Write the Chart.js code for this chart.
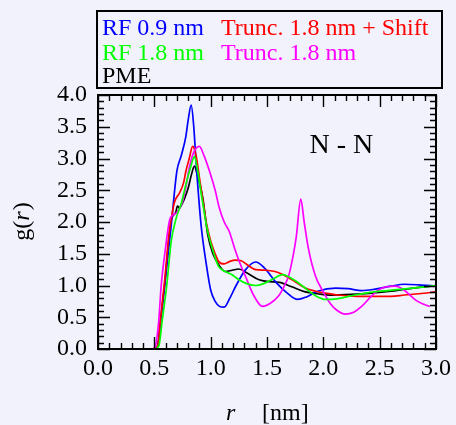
<!DOCTYPE html>
<html>
<head>
<title>g(r) N - N</title>
<style>
  body { margin: 0; background: #f2f2fc; }
  canvas { display: block; }
</style>
</head>
<body>
<canvas id="chart" width="456" height="425"></canvas>
<script src="https://cdn.jsdelivr.net/npm/chart.js@4"></script>
<script>

// RF 0.9 nm
var rRF09 = [0, 0.49, 0.53, 0.556, 0.59, 0.65, 0.70, 0.74, 0.78, 0.80, 0.827, 0.85, 0.87, 0.915, 0.96, 1.0, 1.04, 1.08, 1.12, 1.17, 1.22, 1.31, 1.40, 1.48, 1.58, 1.68, 1.77, 1.85, 1.95, 2.11, 2.22, 2.34, 2.45, 2.6, 2.72, 2.85, 3.0];
var gRF09 = [0, 0, 0.05, 0.45, 0.97, 1.95, 2.8, 3.05, 3.35, 3.6, 3.84, 3.5, 2.95, 1.95, 1.35, 0.93, 0.75, 0.67, 0.66, 0.8, 0.98, 1.25, 1.37, 1.27, 1.05, 0.88, 0.78, 0.82, 0.91, 0.96, 0.95, 0.92, 0.94, 0.99, 1.02, 1.01, 0.99];

// Trunc. 1.8 nm + Shift
var rShift = [0, 0.49, 0.53, 0.556, 0.59, 0.63, 0.66, 0.68, 0.724, 0.76, 0.78, 0.81, 0.84, 0.87, 0.90, 0.93, 0.96, 1.0, 1.04, 1.07, 1.12, 1.17, 1.22, 1.27, 1.33, 1.40, 1.49, 1.57, 1.63, 1.75, 1.84, 1.93, 2.02, 2.13, 2.3, 2.43, 2.6, 2.72, 2.85, 3.0];
var gShift = [0, 0, 0.05, 0.5, 1.05, 1.8, 2.15, 2.32, 2.46, 2.62, 2.8, 3.0, 3.19, 3.05, 2.7, 2.35, 2.0, 1.7, 1.5, 1.38, 1.34, 1.38, 1.40, 1.39, 1.32, 1.25, 1.24, 1.22, 1.18, 1.06, 0.96, 0.91, 0.88, 0.85, 0.83, 0.83, 0.83, 0.85, 0.87, 0.90];

// RF 1.8 nm
var rRF18 = [0, 0.50, 0.54, 0.57, 0.61, 0.65, 0.694, 0.74, 0.78, 0.82, 0.856, 0.88, 0.92, 0.97, 1.02, 1.07, 1.13, 1.19, 1.25, 1.32, 1.40, 1.47, 1.55, 1.64, 1.70, 1.78, 1.86, 1.93, 2.02, 2.12, 2.28, 2.45, 2.57, 2.75, 3.0];
var gRF18 = [0, 0, 0.05, 0.45, 1.0, 1.7, 2.06, 2.3, 2.59, 2.85, 3.03, 2.85, 2.4, 1.88, 1.55, 1.3, 1.22, 1.17, 1.09, 1.03, 1.0, 1.03, 1.1, 1.17, 1.13, 1.04, 0.93, 0.84, 0.78, 0.79, 0.85, 0.9, 0.92, 0.95, 1.0];

// Trunc. 1.8 nm
var rTrunc = [0, 0.48, 0.51, 0.54, 0.56, 0.60, 0.635, 0.665, 0.70, 0.75, 0.78, 0.81, 0.85, 0.90, 0.94, 0.99, 1.04, 1.077, 1.12, 1.165, 1.21, 1.26, 1.31, 1.38, 1.46, 1.53, 1.60, 1.65, 1.69, 1.73, 1.76, 1.80, 1.83, 1.87, 1.93, 1.99, 2.06, 2.12, 2.195, 2.27, 2.34, 2.42, 2.49, 2.56, 2.64, 2.70, 2.75, 2.82, 2.87, 2.945];
var gTrunc = [0, 0, 0.05, 0.46, 0.98, 1.6, 2.03, 2.11, 2.15, 2.32, 2.55, 2.85, 3.1, 3.19, 3.05, 2.8, 2.5, 2.22, 2.0, 1.85, 1.6, 1.35, 1.14, 0.85, 0.67, 0.72, 0.83, 0.98, 1.14, 1.45, 1.77, 2.36, 2.0, 1.56, 1.15, 0.93, 0.72, 0.61, 0.55, 0.58, 0.67, 0.82, 0.93, 0.98, 0.99, 0.95, 0.88, 0.77, 0.72, 0.67];

// PME
var rPME = [0, 0.50, 0.53, 0.556, 0.59, 0.65, 0.69, 0.705, 0.724, 0.745, 0.77, 0.80, 0.83, 0.856, 0.88, 0.93, 0.974, 1.02, 1.07, 1.13, 1.19, 1.25, 1.32, 1.43, 1.52, 1.61, 1.72, 1.84, 1.95, 2.07, 2.25, 2.43, 2.6, 2.72, 2.85, 3.0];
var gPME = [0, 0, 0.05, 0.46, 0.98, 2.03, 2.15, 2.25, 2.22, 2.28, 2.38, 2.53, 2.75, 2.88, 2.75, 2.38, 1.80, 1.5, 1.33, 1.22, 1.24, 1.26, 1.20, 1.09, 1.06, 1.05, 0.98, 0.90, 0.87, 0.85, 0.86, 0.88, 0.91, 0.94, 0.97, 1.0];

var seriesNames = ["RF 0.9 nm", "Trunc. 1.8 nm + Shift", "RF 1.8 nm", "Trunc. 1.8 nm", "PME"];
var xTicks = [0, 0.5, 1.0, 1.5, 2.0, 2.5, 3.0];
var yTicks = [0, 0.5, 1.0, 1.5, 2.0, 2.5, 3.0, 3.5, 4.0];

var serif = "'Liberation Serif', 'Times New Roman', serif";

function pairs(rs, gs) {
    return rs.map(function(r, i) { return {x: r, y: gs[i]}; });
}

function line(label, rs, gs, colour) {
    return {
        label: label,
        data: pairs(rs, gs),
        borderColor: colour,
        backgroundColor: colour,
        borderWidth: 1.7,
        pointRadius: 0,
        fill: false,
        cubicInterpolationMode: 'monotone'
    };
}

// inward ticks on all four sides, plus frame
var frame = {
    id: 'frame',
    afterDatasetsDraw: function(chart) {
        var ctx = chart.ctx, a = chart.chartArea;
        var xs = chart.scales.x, ys = chart.scales.y;
        ctx.save();
        ctx.strokeStyle = '#000';
        ctx.lineWidth = 1.4;
        ctx.beginPath();
        for (var i = 0; i <= 30; i++) {
            var px = Math.round(xs.getPixelForValue(i / 10)) + 0.5;
            var len = i % 5 === 0 ? 12 : 6;
            ctx.moveTo(px, a.bottom); ctx.lineTo(px, a.bottom - len);
            ctx.moveTo(px, a.top); ctx.lineTo(px, a.top + len);
        }
        for (var j = 0; j <= 40; j++) {
            var py = Math.round(ys.getPixelForValue(j / 10)) + 0.5;
            var l2 = j % 5 === 0 ? 12 : 6;
            ctx.moveTo(a.left, py); ctx.lineTo(a.left + l2, py);
            ctx.moveTo(a.right, py); ctx.lineTo(a.right - l2, py);
        }
        ctx.stroke();
        ctx.lineWidth = 2;
        ctx.strokeRect(a.left, a.top, a.right - a.left, a.bottom - a.top);

        // panel label
        ctx.fillStyle = '#000';
        ctx.font = '28px ' + serif;
        ctx.textAlign = 'center';
        ctx.textBaseline = 'alphabetic';
        ctx.fillText('N - N', xs.getPixelForValue(2.16), ys.getPixelForValue(3.09));
        ctx.restore();
    },
    afterDraw: function(chart) {
        var ctx = chart.ctx;
        ctx.save();
        // legend box
        ctx.strokeStyle = '#000';
        ctx.lineWidth = 2;
        ctx.strokeRect(97, 11, 345, 77);
        ctx.font = '24px ' + serif;
        ctx.textAlign = 'left';
        ctx.textBaseline = 'alphabetic';
        var cols = ['#0000ff', '#ff0000', '#00ff00', '#ff00ff', '#000000'];
        var pos = [[102, 35], [221, 35], [102, 60], [221, 60], [102, 83]];
        for (var k = 0; k < seriesNames.length; k++) {
            ctx.fillStyle = cols[k];
            ctx.fillText(seriesNames[k], pos[k][0], pos[k][1]);
        }

        // axis titles
        ctx.fillStyle = '#000';
        ctx.font = 'italic 24px ' + serif;
        ctx.fillText('r', 226, 420);
        ctx.font = '24px ' + serif;
        ctx.fillText('[nm]', 262, 420);

        ctx.translate(29, 222);
        ctx.rotate(-Math.PI / 2);
        ctx.textAlign = 'left';
        var w1 = ctx.measureText('g(').width;
        ctx.font = 'italic 24px ' + serif;
        var w2 = ctx.measureText('r').width;
        ctx.font = '24px ' + serif;
        var w3 = ctx.measureText(')').width;
        var x0 = -(w1 + w2 + w3) / 2;
        ctx.fillText('g(', x0, 0);
        ctx.font = 'italic 24px ' + serif;
        ctx.fillText('r', x0 + w1, 0);
        ctx.font = '24px ' + serif;
        ctx.fillText(')', x0 + w1 + w2 + 1, 0);
        ctx.restore();
    }
};

var ctx = document.getElementById('chart').getContext('2d');
var chart = new Chart(ctx, {
    type: 'line',
    data: {
        datasets: [
            line(seriesNames[2], rRF18, gRF18, '#00ff00'),
            line(seriesNames[3], rTrunc, gTrunc, '#ff00ff'),
            line(seriesNames[1], rShift, gShift, '#ff0000'),
            line(seriesNames[0], rRF09, gRF09, '#0000ff'),
            line(seriesNames[4], rPME, gPME, '#000000')
        ]
    },
    options: {
        responsive: false,
        animation: false,
        layout: { padding: { left: 0, top: 95, right: 17, bottom: 0 } },
        plugins: { legend: { display: false }, tooltip: { enabled: false } },
        scales: {
            x: {
                type: 'linear',
                min: 0, max: 3,
                afterFit: function(s) { s.height = 76; },
                afterBuildTicks: function(s) { s.ticks = xTicks.map(function(v) { return {value: v}; }); },
                grid: { display: false, drawTicks: false },
                border: { display: false },
                ticks: {
                    padding: 5,
                    autoSkip: false,
                    color: '#000',
                    font: { family: serif, size: 24 },
                    maxRotation: 0,
                    callback: function(v) { return Number(v).toFixed(1); }
                }
            },
            y: {
                type: 'linear',
                min: 0, max: 4,
                afterFit: function(s) { s.width = 98; },
                afterBuildTicks: function(s) { s.ticks = yTicks.map(function(v) { return {value: v}; }); },
                grid: { display: false, drawTicks: false },
                border: { display: false },
                ticks: {
                    padding: 11,
                    autoSkip: false,
                    color: '#000',
                    font: { family: serif, size: 24 },
                    callback: function(v) { return Number(v).toFixed(1); }
                }
            }
        }
    },
    plugins: [frame]
});

</script>
</body>
</html>
